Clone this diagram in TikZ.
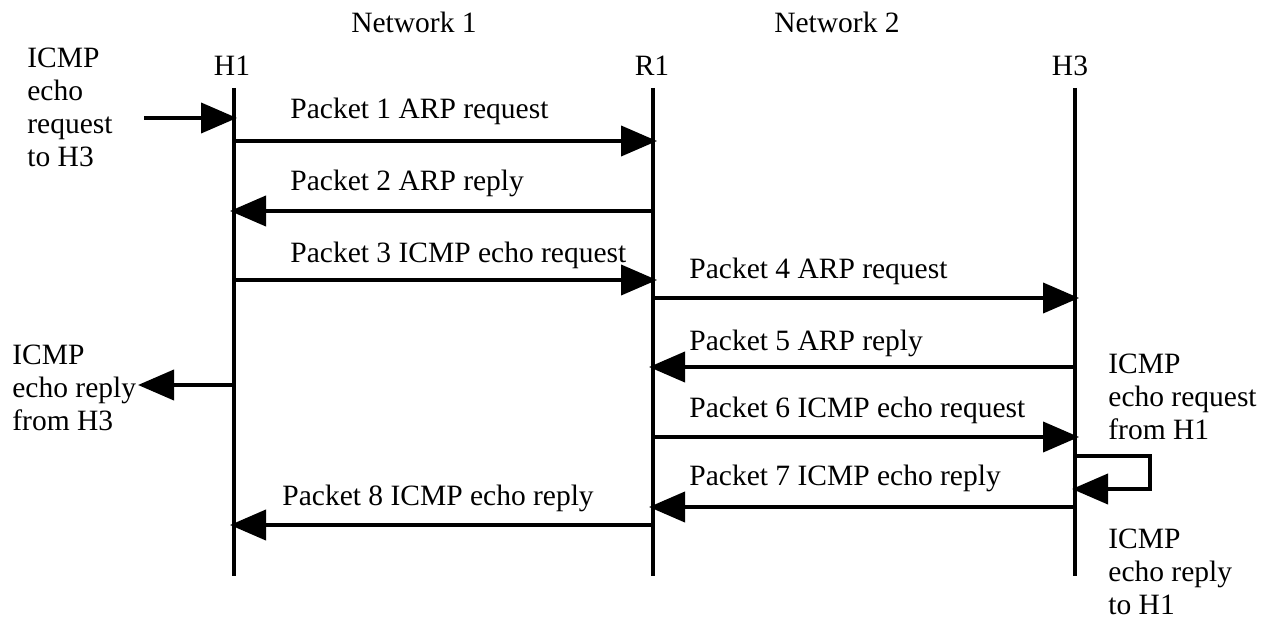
\documentclass[tikz,border=0pt]{standalone}
\usepackage{fontspec}
\setmainfont{Liberation Serif}
\usetikzlibrary{arrows.meta}
\begin{document}
\begin{tikzpicture}[x=0.5pt,y=-0.5pt,
  lifeline/.style={line width=2pt},
  msg/.style={line width=2pt,-{Triangle[length=18pt,width=15pt]}},
  lbl/.style={inner sep=0pt,anchor=base west,font=\fontsize{14.75}{16.5}\selectfont},
  blk/.style={lbl,align=left}]
\useasboundingbox (0,0) rectangle (1267,620);

% network titles and host names
\node[lbl,anchor=base] (net1) at (414,33) {Network 1};
\node[lbl,anchor=base] (net2) at (837,33) {Network 2};
\node[lbl,anchor=base] (h1) at (232,76) {H1};
\node[lbl,anchor=base] (r1) at (652,76) {R1};
\node[lbl,anchor=base] (h3) at (1070,76) {H3};

% lifelines
\coordinate (h1top) at (234,88);  \coordinate (h1bot) at (234,576);
\coordinate (r1top) at (653,88);  \coordinate (r1bot) at (653,576);
\coordinate (h3top) at (1075,88); \coordinate (h3bot) at (1075,576);
\draw[lifeline] (h1top) -- (h1bot);
\draw[lifeline] (r1top) -- (r1bot);
\draw[lifeline] (h3top) -- (h3bot);

% incoming request at H1 (multi-line blocks are placed by their last baseline)
\node[blk] (inreq) at (27,167) {ICMP\\echo\\request\\to H3};
\coordinate (inS) at (144,118); \coordinate (inE) at (237,118);
\draw[msg] (inS) -- (inE);

% packet 1
\coordinate (p1s) at (234,141); \coordinate (p1e) at (657,141);
\draw[msg] (p1s) -- (p1e);
\node[lbl] (l1) at (290,119) {Packet 1 ARP request};
% packet 2
\coordinate (p2s) at (653,211); \coordinate (p2e) at (230,211);
\draw[msg] (p2s) -- (p2e);
\node[lbl] (l2) at (290,191) {Packet 2 ARP reply};
% packet 3
\coordinate (p3s) at (234,280); \coordinate (p3e) at (657,280);
\draw[msg] (p3s) -- (p3e);
\node[lbl] (l3) at (290,262) {Packet 3 ICMP echo request};
% packet 4
\coordinate (p4s) at (653,298); \coordinate (p4e) at (1079,298);
\draw[msg] (p4s) -- (p4e);
\node[lbl] (l4) at (689,278) {Packet 4 ARP request};
% packet 5
\coordinate (p5s) at (1075,367); \coordinate (p5e) at (649,367);
\draw[msg] (p5s) -- (p5e);
\node[lbl] (l5) at (689,350) {Packet 5 ARP reply};
% packet 6
\coordinate (p6s) at (653,437); \coordinate (p6e) at (1079,437);
\draw[msg] (p6s) -- (p6e);
\node[lbl] (l6) at (689,417) {Packet 6 ICMP echo request};
% packet 7
\coordinate (p7s) at (1075,507); \coordinate (p7e) at (649,507);
\draw[msg] (p7s) -- (p7e);
\node[lbl] (l7) at (689,485) {Packet 7 ICMP echo reply};
% packet 8
\coordinate (p8s) at (653,525); \coordinate (p8e) at (230,525);
\draw[msg] (p8s) -- (p8e);
\node[lbl] (l8) at (282,505) {Packet 8 ICMP echo reply};

% reply delivered at H1
\node[blk] (outrep) at (12,430) {ICMP\\echo reply\\from H3};
\coordinate (outS) at (234,385); \coordinate (outE) at (138,385);
\draw[msg] (outS) -- (outE);

% processing at H3
\node[blk] (h3req) at (1108,439) {ICMP\\echo request\\from H1};
\coordinate (lpA) at (1075,456); \coordinate (lpB) at (1150,456);
\coordinate (lpC) at (1150,489); \coordinate (lpD) at (1072,489);
\draw[msg] (lpA) -- (lpB) -- (lpC) -- (lpD);
\node[blk] (h3rep) at (1108,614) {ICMP\\echo reply\\to H1};
\end{tikzpicture}
\end{document}
